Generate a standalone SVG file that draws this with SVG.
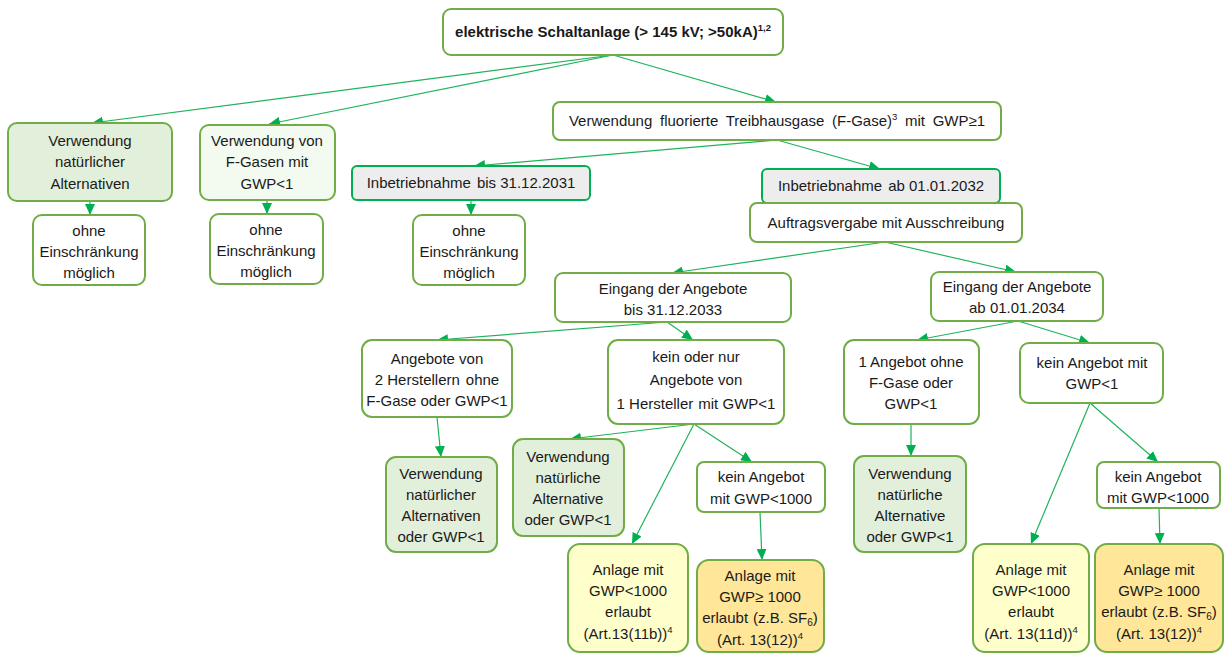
<svg xmlns="http://www.w3.org/2000/svg" width="1224" height="653" viewBox="0 0 1224 653">
<style>
.b{fill:#ffffff;stroke:#70ad47;stroke-width:2}
.g{fill:#e2efda;stroke:#70ad47;stroke-width:2}
.lg{fill:#f3fbf0;stroke:#70ad47;stroke-width:2}
.gr{fill:#ededed;stroke:#00b050;stroke-width:2}
.y{fill:#ffffcc;stroke:#70ad47;stroke-width:2}
.o{fill:#ffe699;stroke:#70ad47;stroke-width:2}
text{font-family:"Liberation Sans",Arial,sans-serif;font-size:15px;fill:#1a1a1a;text-anchor:middle}
.bold{font-weight:bold}
.ws{word-spacing:3.5px}
.c line{stroke:#1fb35a;stroke-width:1.2;marker-end:url(#ah)}
</style>
<defs>
<marker id="ah" markerWidth="12" markerHeight="10" refX="11" refY="5" orient="auto" markerUnits="userSpaceOnUse">
<path d="M0,0 L11,5 L0,10 Z" fill="#00b050"/>
</marker>
</defs>
<g class="c" id="connectors">
<line x1="613" y1="55" x2="92" y2="123"/>
<line x1="613" y1="55" x2="269" y2="124"/>
<line x1="613" y1="55" x2="776" y2="102"/>
<line x1="777" y1="140" x2="474" y2="166"/>
<line x1="777" y1="140" x2="880" y2="169"/>
<line x1="90" y1="201" x2="90" y2="215"/>
<line x1="267" y1="200" x2="267" y2="214"/>
<line x1="471" y1="200" x2="471" y2="215"/>
<line x1="885" y1="242" x2="672" y2="273"/>
<line x1="885" y1="242" x2="1016" y2="272"/>
<line x1="667" y1="322" x2="437" y2="340"/>
<line x1="667" y1="322" x2="693" y2="340"/>
<line x1="1018" y1="321" x2="917" y2="340"/>
<line x1="1018" y1="321" x2="1090" y2="343"/>
<line x1="437" y1="417" x2="441" y2="457"/>
<line x1="694" y1="424" x2="570" y2="439"/>
<line x1="694" y1="424" x2="632" y2="544"/>
<line x1="694" y1="424" x2="752" y2="462"/>
<line x1="760" y1="512" x2="762" y2="560"/>
<line x1="911" y1="424" x2="911" y2="456"/>
<line x1="1090" y1="403" x2="1031" y2="544"/>
<line x1="1090" y1="403" x2="1158" y2="462"/>
<line x1="1159" y1="508" x2="1160" y2="544"/>
</g>
<g id="n-top"><rect class="b" x="443" y="9" width="340" height="46" rx="8"/><text class="bold" x="613" y="37">elektrische Schaltanlage (&gt; 145 kV; &gt;50kA)<tspan font-size="9.5" dy="-6">1,2</tspan></text></g>
<g id="n-nat"><rect class="g" x="8" y="123" width="164" height="78" rx="9"/><text x="90" y="146">Verwendung</text><text x="90" y="167">natürlicher</text><text x="90" y="189">Alternativen</text></g>
<g id="n-fgas1"><rect class="lg" x="200" y="125" width="135" height="75" rx="9"/><text x="267" y="146">Verwendung von</text><text x="267" y="167">F-Gasen mit</text><text x="267" y="189">GWP&lt;1</text></g>
<g id="n-fgas"><rect class="b" x="553" y="102" width="448" height="38" rx="7"/><text class="ws" x="777" y="126">Verwendung fluorierte Treibhausgase (F-Gase)<tspan font-size="9.5" dy="-6">3</tspan><tspan dy="6"> mit GWP≥1</tspan></text></g>
<g id="n-ib2031"><rect class="gr" x="352" y="166" width="238" height="34" rx="5"/><text x="471" y="188">Inbetriebnahme<tspan dx="6">bis 31.12.2031</tspan></text></g>
<g id="n-ib2032"><rect class="gr" x="762" y="169" width="238" height="34" rx="5"/><text x="881" y="191">Inbetriebnahme<tspan dx="6">ab 01.01.2032</tspan></text></g>
<g id="n-auftrag"><rect class="b" x="750" y="203" width="272" height="39" rx="7"/><text x="886" y="228">Auftragsvergabe mit Ausschreibung</text></g>
<g id="n-ohne1"><rect class="b" x="33" y="215" width="112" height="70" rx="9"/><text x="89" y="236">ohne</text><text x="89" y="257">Einschränkung</text><text x="89" y="278">möglich</text></g>
<g id="n-ohne2"><rect class="b" x="210" y="214" width="113" height="70" rx="9"/><text x="266" y="235">ohne</text><text x="266" y="256">Einschränkung</text><text x="266" y="277">möglich</text></g>
<g id="n-ohne3"><rect class="b" x="413" y="215" width="112" height="70" rx="9"/><text x="469" y="236">ohne</text><text x="469" y="257">Einschränkung</text><text x="469" y="278">möglich</text></g>
<g id="n-eing1"><rect class="b" x="555" y="273" width="236" height="49" rx="8"/><text x="673" y="294">Eingang der Angebote</text><text x="673" y="315">bis 31.12.2033</text></g>
<g id="n-eing2"><rect class="b" x="931" y="272" width="172" height="49" rx="8"/><text x="1017" y="292">Eingang der Angebote</text><text x="1017" y="313">ab 01.01.2034</text></g>
<g id="n-2herst"><rect class="b" x="362" y="340" width="150" height="77" rx="10"/><text x="437" y="364">Angebote von</text><text x="437" y="385">2 Herstellern<tspan dx="6">ohne</tspan></text><text x="437" y="406">F-Gase oder GWP&lt;1</text></g>
<g id="n-kein1"><rect class="b" x="608" y="340" width="176" height="84" rx="10"/><text x="696" y="362">kein oder nur</text><text x="696" y="385">Angebote von</text><text x="696" y="409">1 Hersteller<tspan dx="5">mit GWP&lt;1</tspan></text></g>
<g id="n-1ang"><rect class="b" x="844" y="340" width="135" height="84" rx="10"/><text x="911" y="367">1 Angebot ohne</text><text x="911" y="388">F-Gase oder</text><text x="911" y="409">GWP&lt;1</text></g>
<g id="n-kein2"><rect class="b" x="1020" y="343" width="143" height="60" rx="9"/><text x="1092" y="368">kein Angebot mit</text><text x="1092" y="389">GWP&lt;1</text></g>
<g id="n-natA"><rect class="g" x="386" y="457" width="111" height="95" rx="10"/><text x="441" y="479">Verwendung</text><text x="441" y="500">natürlicher</text><text x="441" y="521">Alternativen</text><text x="441" y="542">oder GWP&lt;1</text></g>
<g id="n-natB"><rect class="g" x="513" y="439" width="111" height="97" rx="10"/><text x="568" y="462">Verwendung</text><text x="568" y="483">natürliche</text><text x="568" y="504">Alternative</text><text x="568" y="525">oder GWP&lt;1</text></g>
<g id="n-k1000a"><rect class="b" x="697" y="462" width="128" height="50" rx="7"/><text x="761" y="482">kein Angebot</text><text x="761" y="504">mit GWP&lt;1000</text></g>
<g id="n-natC"><rect class="g" x="854" y="456" width="112" height="96" rx="10"/><text x="910" y="479">Verwendung</text><text x="910" y="500">natürliche</text><text x="910" y="521">Alternative</text><text x="910" y="542">oder GWP&lt;1</text></g>
<g id="n-k1000b"><rect class="b" x="1097" y="462" width="123" height="46" rx="7"/><text x="1158" y="482">kein Angebot</text><text x="1158" y="503">mit GWP&lt;1000</text></g>
<g id="n-a11b"><rect class="y" x="568" y="544" width="120" height="108" rx="12"/><text x="628" y="575">Anlage mit</text><text x="628" y="596">GWP&lt;1000</text><text x="628" y="617">erlaubt</text><text x="628" y="639">(Art.13(11b))<tspan font-size="9.5" dy="-6">4</tspan></text></g>
<g id="n-a12a"><rect class="o" x="697" y="560" width="127" height="92" rx="12"/><text x="760" y="581">Anlage mit</text><text x="760" y="602">GWP≥ 1000</text><text x="760" y="623">erlaubt<tspan dx="5">(z.B. SF</tspan><tspan font-size="10" dy="3">6</tspan><tspan dy="-3">)</tspan></text><text x="760" y="645">(Art. 13(12))<tspan font-size="9.5" dy="-6">4</tspan></text></g>
<g id="n-a11d"><rect class="y" x="973" y="544" width="116" height="108" rx="12"/><text x="1031" y="575">Anlage mit</text><text x="1031" y="596">GWP&lt;1000</text><text x="1031" y="617">erlaubt</text><text x="1031" y="639">(Art. 13(11d))<tspan font-size="9.5" dy="-6">4</tspan></text></g>
<g id="n-a12b"><rect class="o" x="1095" y="544" width="128" height="108" rx="12"/><text x="1159" y="575">Anlage mit</text><text x="1159" y="596">GWP≥ 1000</text><text x="1159" y="617">erlaubt<tspan dx="5">(z.B. SF</tspan><tspan font-size="10" dy="3">6</tspan><tspan dy="-3">)</tspan></text><text x="1159" y="639">(Art. 13(12))<tspan font-size="9.5" dy="-6">4</tspan></text></g>
</svg>
